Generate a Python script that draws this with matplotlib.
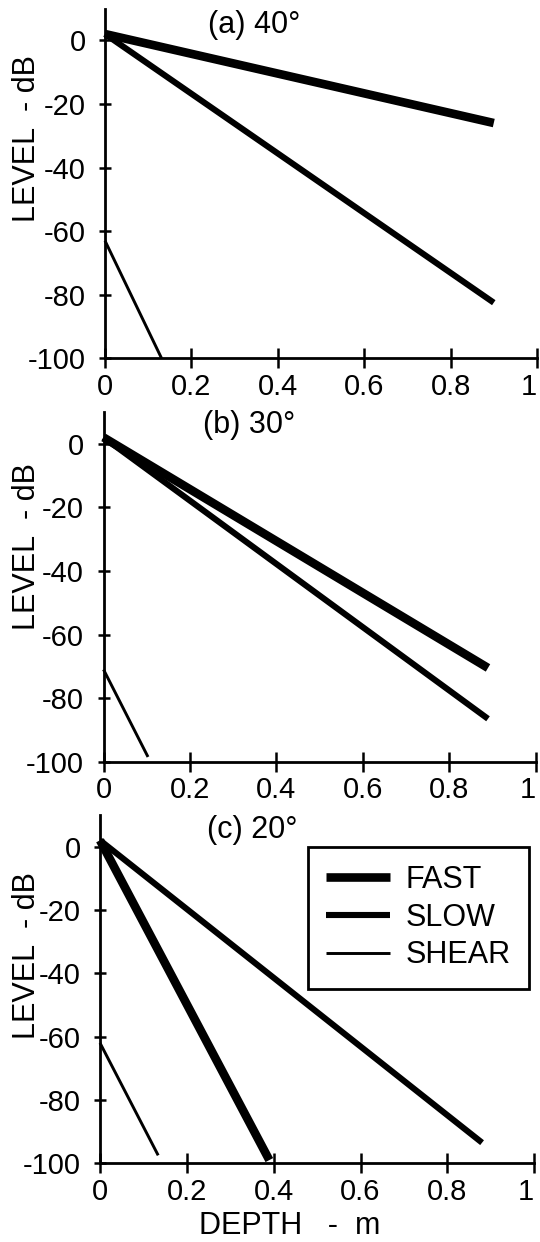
import matplotlib
matplotlib.use("Agg")
import matplotlib.pyplot as plt

plt.rcParams['font.family'] = ['Liberation Sans', 'DejaVu Sans']
plt.rcParams['axes.unicode_minus'] = False

# panel titles
titles = ["(a) 40°", "(b) 30°", "(c) 20°"]

# FAST / SLOW / SHEAR levels (dB) vs depth (m), straight lines between end points
fast_depth = [[0, 0.90], [0, 0.89], [0, 0.39]]
fast_level = [[2, -26], [2, -70.5], [2, -99]]
slow_depth = [[0, 0.90], [0, 0.89], [0, 0.88]]
slow_level = [[2, -82.5], [2, -86.5], [2, -93.5]]
shear_depth = [[0, 0.131], [0, 0.103], [0, 0.134]]
shear_level = [[-63, -100], [-71, -98.5], [-62, -97.5]]

xticks = [0, 0.2, 0.4, 0.6, 0.8, 1]
xticklabels = ["0", "0.2", "0.4", "0.6", "0.8", "1"]
yticks = [0, -20, -40, -60, -80, -100]
yticklabels = ["0", "-20", "-40", "-60", "-80", "-100"]

fig = plt.figure(figsize=(5.4, 12.42), dpi=100)

# axes boxes in figure fractions (left, bottom, width, height)
boxes = [(0.1944, 0.7115, 0.800, 0.2816),
         (0.1917, 0.3867, 0.800, 0.2816),
         (0.1852, 0.0634, 0.804, 0.2804)]
title_pos = [(0.345, 0.953), (0.336, 0.963), (0.350, 0.957)]
ylabel_pos = [(-0.18, 0.628), (-0.177, 0.614), (-0.168, 0.595)]

for i in range(3):
    ax = fig.add_axes(boxes[i])
    ax.plot(fast_depth[i], fast_level[i], color='black', lw=6.2, label='FAST',
            solid_capstyle='butt', clip_on=False)
    ax.plot(slow_depth[i], slow_level[i], color='black', lw=4.4, label='SLOW',
            solid_capstyle='butt', clip_on=False)
    ax.plot(shear_depth[i], shear_level[i], color='black', lw=2.1, label='SHEAR',
            solid_capstyle='butt', clip_on=False)
    ax.set_xlim(0, 1)
    ax.set_ylim(-100, 10)
    ax.spines['top'].set_visible(False)
    ax.spines['right'].set_visible(False)
    ax.spines['left'].set_linewidth(2.0)
    ax.spines['bottom'].set_linewidth(2.0)
    ax.set_xticks(xticks)
    ax.set_xticklabels(xticklabels)
    # last label sits at the figure edge, keep it inside
    ax.get_xticklabels()[-1].set_horizontalalignment('right')
    ax.set_yticks(yticks)
    ax.set_yticklabels(yticklabels)
    ax.tick_params(axis='both', direction='inout', width=1.8, labelsize=21,
                   colors='black')
    ax.tick_params(axis='x', length=14, pad=3.5)
    ax.tick_params(axis='y', length=9, pad=9.5)
    ax.set_ylabel("LEVEL  - dB", fontsize=22, va='center')
    ax.yaxis.set_label_coords(*ylabel_pos[i])
    ax.text(title_pos[i][0], title_pos[i][1], titles[i], transform=ax.transAxes,
            fontsize=22, ha='center', va='center')
    if i == 2:
        ax.set_xlabel("DEPTH   -  m", fontsize=22, va='center')
        ax.xaxis.set_label_coords(0.438, -0.18)
        leg = ax.legend(loc='upper right', bbox_to_anchor=(0.988, 0.909),
                        borderaxespad=0, fontsize=22, fancybox=False,
                        framealpha=1, edgecolor='black', handlelength=2.1,
                        handletextpad=0.5, labelspacing=0.25, borderpad=0.6)
        leg.get_frame().set_linewidth(2.0)

fig.savefig("out.png", dpi=100)
